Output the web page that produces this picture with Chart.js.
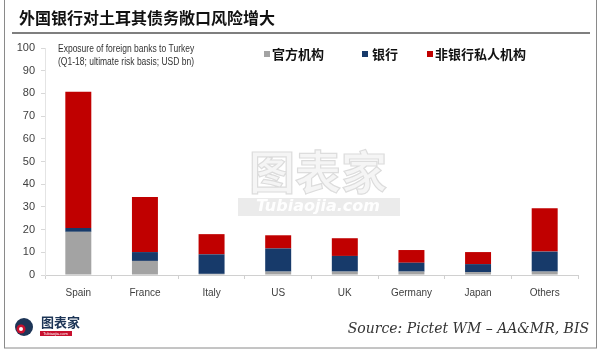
<!DOCTYPE html>
<html>
<head>
<meta charset="utf-8">
<script src="https://cdn.jsdelivr.net/npm/chart.js@4.4.1/dist/chart.umd.min.js"></script>
<style>
  html, body { margin: 0; padding: 0; background: #ffffff; }
  #wrap { position: relative; width: 600px; height: 350px; }
</style>
</head>
<body>
<div id="wrap"><canvas id="c" width="600" height="350"></canvas></div>
<script>
// Foreign bank exposure to Turkey, Q1-18, ultimate risk basis, USD bn
const categories = ['Spain', 'France', 'Italy', 'US', 'UK', 'Germany', 'Japan', 'Others'];
const officialSector = [19, 6.2, 0.5, 1.5, 1.5, 1.5, 1.3, 1.5];
const bankSector = [1.7, 3.9, 8.6, 10.2, 6.9, 3.9, 3.5, 8.8];
const nonBankPrivate = [60, 24.3, 8.9, 5.8, 7.8, 5.6, 5.3, 19.1];
const seriesNames = ['官方机构', '银行', '非银行私人机构'];
const yTicks = [0, 10, 20, 30, 40, 50, 60, 70, 80, 90, 100];

const COLORS = ['#a3a3a3', '#173a6a', '#c00000'];
const SANS = '"Liberation Sans", Arial, sans-serif';
const CJK = '"Noto Sans CJK SC", "Noto Sans", sans-serif';

// Frame, heading, note, legend, watermark, source and logo
const decorations = {
  id: 'decorations',
  beforeDraw(chart) {
    const ctx = chart.ctx;
    ctx.save();
    ctx.fillStyle = '#ffffff';
    ctx.fillRect(0, 0, 600, 350);

    // watermark
    ctx.textAlign = 'center';
    ctx.textBaseline = 'middle';
    ctx.font = 'bold 46px ' + CJK;
    ctx.strokeStyle = 'rgba(190,190,190,0.55)';
    ctx.lineWidth = 1.2;
    ctx.strokeText('图表家', 318, 172);
    ctx.fillStyle = 'rgba(225,225,225,0.35)';
    ctx.fillText('图表家', 318, 172);
    ctx.fillStyle = 'rgba(215,215,215,0.5)';
    ctx.fillRect(238, 198, 162, 18);
    ctx.fillStyle = 'rgba(255,255,255,0.95)';
    ctx.font = 'italic bold 16px "DejaVu Sans", sans-serif';
    ctx.fillText('Tubiaojia.com', 318, 207);
    ctx.restore();
  },
  afterDraw(chart) {
    const ctx = chart.ctx;
    ctx.save();

    // outer frame
    ctx.strokeStyle = '#8a8a8a';
    ctx.lineWidth = 1;
    ctx.strokeRect(4.5, -1, 592, 349);

    // heading
    ctx.fillStyle = '#111111';
    ctx.font = 'bold 16px ' + CJK;
    ctx.textAlign = 'left';
    ctx.textBaseline = 'middle';
    ctx.fillText('外国银行对土耳其债务敞口风险增大', 19, 18);
    ctx.strokeStyle = '#555555';
    ctx.lineWidth = 1.5;
    ctx.beginPath();
    ctx.moveTo(12, 33);
    ctx.lineTo(590, 33);
    ctx.stroke();

    // note, set in a condensed width
    ctx.save();
    ctx.translate(58, 0);
    ctx.scale(0.85, 1);
    ctx.fillStyle = '#333333';
    ctx.font = '10px ' + SANS;
    ctx.fillText('Exposure of foreign banks to Turkey', 0, 49);
    ctx.fillText('(Q1-18; ultimate risk basis; USD bn)', 0, 62);
    ctx.restore();

    // legend
    const legendX = [264, 362, 427];
    ctx.font = 'bold 13px ' + CJK;
    chart.data.datasets.forEach((ds, i) => {
      ctx.fillStyle = ds.backgroundColor;
      ctx.fillRect(legendX[i], 51, 6, 6);
      ctx.fillStyle = '#111111';
      ctx.fillText(ds.label, legendX[i] + (i === 1 ? 10 : 8), 54);
    });

    // source
    ctx.fillStyle = '#333333';
    ctx.font = 'italic 14px "DejaVu Serif", "Liberation Serif", serif';
    ctx.textAlign = 'right';
    ctx.fillText('Source: Pictet WM \u2013 AA&MR, BIS', 589, 329);

    // logo
    ctx.fillStyle = '#1d3557';
    ctx.beginPath();
    ctx.arc(24, 327, 9, 0, Math.PI * 2);
    ctx.fill();
    ctx.fillStyle = '#c8102e';
    ctx.beginPath();
    ctx.arc(21, 329, 4.5, 0, Math.PI * 2);
    ctx.fill();
    ctx.fillStyle = '#ffffff';
    ctx.beginPath();
    ctx.arc(21, 329, 2, 0, Math.PI * 2);
    ctx.fill();
    ctx.fillStyle = '#1d3557';
    ctx.font = 'bold 13px ' + CJK;
    ctx.textAlign = 'left';
    ctx.fillText('图表家', 41, 322);
    ctx.fillStyle = '#c8102e';
    ctx.fillRect(40, 331, 32, 5);
    ctx.fillStyle = '#ffffff';
    ctx.font = '4px sans-serif';
    ctx.fillText('Tubiaojia.com', 43, 333.5);
    ctx.restore();
  }
};

new Chart(document.getElementById('c'), {
  type: 'bar',
  data: {
    labels: categories,
    datasets: [
      { label: seriesNames[0], data: officialSector, backgroundColor: COLORS[0] },
      { label: seriesNames[1], data: bankSector, backgroundColor: COLORS[1] },
      { label: seriesNames[2], data: nonBankPrivate, backgroundColor: COLORS[2] }
    ]
  },
  options: {
    responsive: false,
    animation: false,
    layout: { padding: { left: 0, right: 22, top: 48, bottom: 0 } },
    datasets: { bar: { barPercentage: 0.39, categoryPercentage: 1.0, borderWidth: 0 } },
    plugins: {
      legend: { display: false },
      tooltip: { enabled: false }
    },
    scales: {
      x: {
        stacked: true,
        grid: { drawOnChartArea: false, color: '#d0d0d0', tickLength: 4, offset: true },
        border: { color: '#d0d0d0' },
        ticks: { color: '#404040', font: { family: SANS, size: 10 }, padding: 8, maxRotation: 0 },
        afterFit(s) { s.height = 75; }
      },
      y: {
        stacked: true,
        min: 0,
        max: 100,
        afterBuildTicks(s) { s.ticks = yTicks.map(v => ({ value: v })); },
        grid: { drawOnChartArea: false, color: '#d8d8d8', tickLength: 4 },
        border: { color: '#e4e4e4' },
        ticks: { color: '#404040', font: { family: SANS, size: 11 }, padding: 6 },
        afterFit(s) { s.width = 45; }
      }
    }
  },
  plugins: [decorations]
});
</script>
</body>
</html>
